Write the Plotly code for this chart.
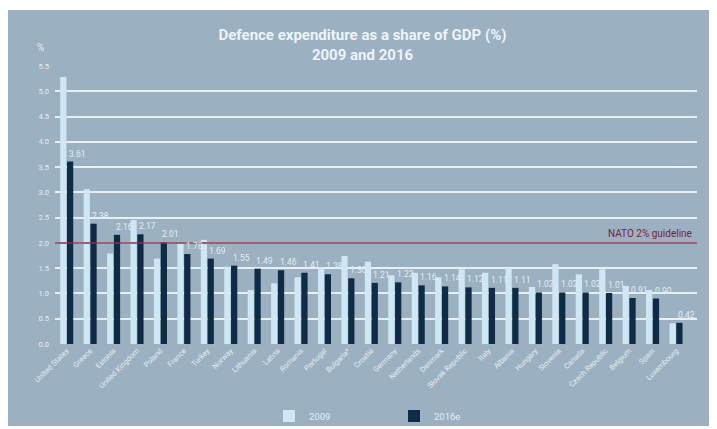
import plotly.graph_objects as go

countries = ["United States", "Greece", "Estonia", "United Kingdom", "Poland", "France", "Turkey",
             "Norway", "Lithuania", "Latvia", "Romania", "Portugal", "Bulgaria*", "Croatia",
             "Germany", "Netherlands", "Denmark", "Slovak Republic", "Italy", "Albania", "Hungary",
             "Slovenia", "Canada", "Czech Republic", "Belgium", "Spain", "Luxembourg"]
values_2009 = [5.28, 3.06, 1.79, 2.45, 1.69, 2.02, 2.06, 1.53, 1.07, 1.20, 1.32, 1.52, 1.74, 1.63,
               1.36, 1.41, 1.32, 1.48, 1.41, 1.50, 1.13, 1.58, 1.38, 1.48, 1.15, 1.07, 0.41]
values_2016 = [3.61, 2.38, 2.16, 2.17, 2.01, 1.78, 1.69, 1.55, 1.49, 1.46, 1.41, 1.38, 1.30, 1.21,
               1.22, 1.16, 1.14, 1.12, 1.11, 1.11, 1.02, 1.02, 1.02, 1.01, 0.91, 0.90, 0.42]
y_ticks = [0.0, 0.5, 1.0, 1.5, 2.0, 2.5, 3.0, 3.5, 4.0, 4.5, 5.0, 5.5]
guideline = 2.0

# the page adds an 8px body margin, so the figure is sized to fit the window
OFF = 8
W, H = 717 - OFF, 429 - OFF
ML, MT = 55 - OFF, 66 - OFF
MR = W - (697 - OFF)
MB = H - (344 - OFF)
PW = W - ML - MR
PH = H - MT - MB

def px_x(px):  # reference-window pixel -> paper x
    return (px - OFF - ML) / PW

def px_y(py):  # reference-window pixel -> paper y
    return (H - MB - (py - OFF)) / PH

panel = "#9bb0c1"
light = "#cfe6f3"
dark = "#0e2c45"
txt = "#e6edf2"
font = "Roboto"

fig = go.Figure()
fig.add_trace(go.Bar(name="2009", x=countries, y=values_2009, marker_color=light,
                     marker_line_width=0))
fig.add_trace(go.Bar(name="2016e", x=countries, y=values_2016, marker_color=dark,
                     marker_line_width=0))

# value labels for 2016e, placed just above each dark bar
for c, v in zip(countries, values_2016):
    fig.add_annotation(x=c, y=v, xref="x", yref="y", xanchor="left", yanchor="bottom",
                       xshift=0, yshift=1, text=f"{v:.2f}", showarrow=False,
                       font=dict(size=8.5, color=txt, family=font))

# panel on white page
fig.add_shape(type="rect", xref="paper", yref="paper", x0=px_x(OFF), x1=px_x(730), y0=px_y(426), y1=px_y(10),
              fillcolor=panel, line_width=0, layer="below")

# NATO guideline
fig.add_shape(type="line", xref="paper", yref="y", x0=0, x1=1, y0=guideline, y1=guideline,
              line=dict(color="#8c2f45", width=1.5), layer="above")
fig.add_annotation(x=px_x(694), y=guideline, xref="paper", yref="y", xanchor="right", yanchor="bottom",
                   yshift=2, text="NATO 2% guideline", showarrow=False,
                   font=dict(size=10, color="#7a1f3a", family=font))

fig.add_annotation(x=px_x(40), y=px_y(48), xref="paper", yref="paper", xanchor="center", yanchor="middle",
                   text="%", showarrow=False,
                   font=dict(size=10, color=txt, family=font))

fig.update_layout(
    width=W, height=H,
    margin=dict(l=ML, r=MR, t=MT, b=MB, autoexpand=False),
    paper_bgcolor="white", plot_bgcolor=panel,
    barmode="group", bargap=0.42, bargroupgap=0.08,
    title=dict(text="<b>Defence expenditure as a share of GDP (%)<br>2009 and 2016</b>",
               x=0.5, xanchor="center", y=1 - (40 - OFF) / H, yanchor="middle",
               font=dict(size=15, color="#eef3f6", family=font)),
    font=dict(family=font, color=txt),
    xaxis=dict(tickangle=-45, tickfont=dict(size=7.5, color=txt), showgrid=False,
               showline=False, ticks="", automargin=False),
    yaxis=dict(range=[0, 5.5], tickvals=y_ticks, tickformat=".1f",
               tickfont=dict(size=7.5, color=txt), gridcolor="#e8f0f5", gridwidth=2,
               zeroline=False, showline=False, ticks="", ticklabelstandoff=5, automargin=False),
    legend=dict(orientation="h", x=px_x(269), y=px_y(416), xanchor="left", yanchor="middle",
                entrywidth=80, bgcolor="rgba(0,0,0,0)", font=dict(size=9.5, color=txt, family=font)),
)

fig.write_html("out.html")
